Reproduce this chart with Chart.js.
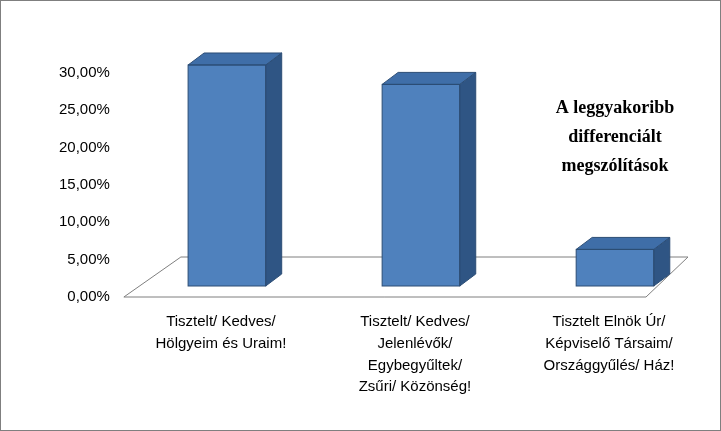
<!DOCTYPE html>
<html>
<head>
<meta charset="utf-8">
<script src="https://cdn.jsdelivr.net/npm/chart.js@4"></script>
<style>
  html, body { margin: 0; padding: 0; background: #fff; }
  #wrap { position: relative; width: 719px; height: 429px; border: 1px solid #7f7f7f; }
</style>
</head>
<body>
<div id="wrap"><canvas id="chart" width="719" height="429"></canvas></div>
<script>
// Data
const categories = [
    ['Tisztelt/ Kedves/', 'Hölgyeim és Uraim!'],
    ['Tisztelt/ Kedves/', 'Jelenlévők/', 'Egybegyűltek/', 'Zsűri/ Közönség!'],
    ['Tisztelt Elnök Úr/', 'Képviselő Társaim/', 'Országgyűlés/ Ház!']
];
const shares = [29.6, 27.0, 4.9];
const titleLines = ['A leggyakoribb', 'differenciált', 'megszólítások'];

// 3D look
const DX = 16, DY = -12;
const SHIFT_X = 6, SHIFT_Y = -11;

const pseudo3d = {
    id: 'pseudo3d',
    beforeDatasetsDraw(chart) {
        const { ctx, chartArea: a, scales: { y } } = chart;
        const y0 = y.getPixelForValue(0);
        // floor
        ctx.save();
        ctx.strokeStyle = '#7f7f7f';
        ctx.lineWidth = 1;
        ctx.beginPath();
        ctx.moveTo(a.left, y0);
        ctx.lineTo(a.right - 60, y0);
        ctx.lineTo(a.right - 18, y0 - 40);
        ctx.lineTo(a.left + 57, y0 - 40);
        ctx.closePath();
        ctx.stroke();
        ctx.restore();
        ctx.save();
        ctx.translate(SHIFT_X, SHIFT_Y);
    },
    afterDatasetsDraw(chart) {
        const { ctx } = chart;
        chart.getDatasetMeta(0).data.forEach(bar => {
            const l = bar.x - bar.width / 2, r = bar.x + bar.width / 2;
            const t = bar.y, b = bar.base;
            ctx.strokeStyle = '#2c4d75';
            ctx.lineWidth = 1;
            // side
            ctx.fillStyle = '#2f5584';
            ctx.beginPath();
            ctx.moveTo(r, t); ctx.lineTo(r + DX, t + DY);
            ctx.lineTo(r + DX, b + DY); ctx.lineTo(r, b);
            ctx.closePath(); ctx.fill(); ctx.stroke();
            // top
            ctx.fillStyle = '#3f6ea8';
            ctx.beginPath();
            ctx.moveTo(l, t); ctx.lineTo(l + DX, t + DY);
            ctx.lineTo(r + DX, t + DY); ctx.lineTo(r, t);
            ctx.closePath(); ctx.fill(); ctx.stroke();
            ctx.strokeRect(l, t, r - l, b - t);
        });
        ctx.restore();
    },
    afterDraw(chart) {
        const { ctx } = chart;
        ctx.save();
        ctx.fillStyle = '#000';
        ctx.font = 'bold 18px "Liberation Serif"';
        ctx.textAlign = 'center';
        titleLines.forEach((line, i) => ctx.fillText(line, 614, 112 + i * 29));
        ctx.restore();
    }
};

new Chart(document.getElementById('chart'), {
    type: 'bar',
    data: {
        labels: categories,
        datasets: [{
            data: shares,
            backgroundColor: '#4f81bd',
            borderWidth: 0,
            barPercentage: 0.4,
            categoryPercentage: 1
        }]
    },
    options: {
        responsive: false,
        animation: false,
        layout: { padding: { top: 72, right: 14, left: 52, bottom: 18 } },
        plugins: { legend: { display: false }, tooltip: { enabled: false } },
        scales: {
            x: {
                grid: { display: false, drawTicks: false },
                border: { display: false },
                ticks: {
                    color: '#000', font: { family: 'Liberation Sans', size: 15, lineHeight: 1.45 },
                    maxRotation: 0, padding: 14
                }
            },
            y: {
                min: 0, max: 30,
                grid: { display: false },
                border: { display: false },
                ticks: {
                    stepSize: 5, color: '#000', padding: 6,
                    font: { family: 'Liberation Sans', size: 15 },
                    callback: v => v.toFixed(2).replace('.', ',') + '%'
                }
            }
        }
    },
    plugins: [pseudo3d]
});
</script>
</body>
</html>
